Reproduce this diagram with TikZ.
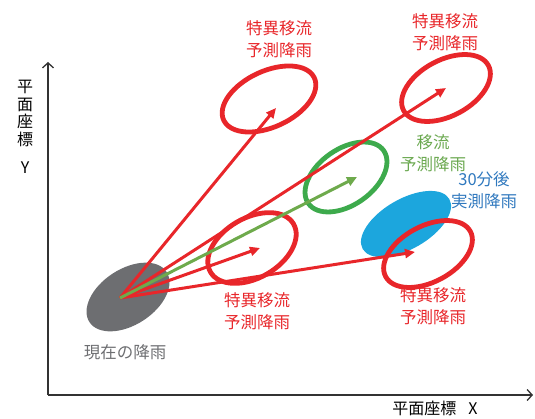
\documentclass[tikz,border=0pt]{standalone}
\usepackage{fontspec}
\setmainfont{Noto Sans CJK JP}
\usetikzlibrary{shapes.geometric,arrows.meta}
\definecolor{myred}{HTML}{E8262A}
\definecolor{mygreenring}{HTML}{3DAA4C}
\definecolor{mygreenarrow}{HTML}{6EAA4C}
\definecolor{mygreentext}{HTML}{6AA84F}
\definecolor{myblue}{HTML}{1CA6DD}
\definecolor{mybluetext}{HTML}{2F78BE}
\definecolor{mygray}{HTML}{6D6E71}
\definecolor{axisgray}{HTML}{333333}
\begin{document}
\begin{tikzpicture}[x=1pt,y=1pt,
  ring/.style={ellipse, draw=myred, line width=4.8pt, inner sep=0pt},
  blob/.style={ellipse, inner sep=0pt, draw=none},
  redarrow/.style={draw=myred, line width=3pt, -{Triangle[length=10pt,width=9pt]}},
  greenarrow/.style={draw=mygreenarrow, line width=3pt, -{Triangle[length=10pt,width=9pt]}},
  axis/.style={draw=axisgray, line width=1.3pt, -{Straight Barb[length=5pt,width=11pt]}},
  lbl/.style={align=center, font=\fontsize{16.5}{22}\selectfont, inner sep=0pt},
  axlbl/.style={font=\fontsize{16}{17.5}\selectfont, inner sep=0pt, text=black}]
\useasboundingbox (0,0) rectangle (535,418);
% axes
\coordinate (O) at (48,23);
\coordinate (Ytop) at (48,356);
\coordinate (Xend) at (533,23);
\draw[axis] (O) -- (Ytop);
\draw[axis] (O) -- (Xend);
\node[axlbl, align=center] (ylab) at (25,291) {平\\面\\座\\標\\[11pt]Y};
\node[axlbl] (xlab) at (435,9.5) {平面座標\hspace{12pt}X};
% current rain
\node[blob, fill=mygray, minimum width=92pt, minimum height=56pt, rotate=33] (now) at (128,121) {};
% observed after 30 min
\node[blob, fill=myblue, minimum width=100pt, minimum height=50pt, rotate=30] (obs) at (406,194) {};
% rings
\node[ring, minimum width=100pt, minimum height=56pt, rotate=25] (tl) at (269,319) {};
\node[ring, minimum width=96pt, minimum height=56pt, rotate=28] (tr) at (446,330) {};
\node[ring, minimum width=96pt, minimum height=60pt, rotate=30] (mid) at (252,170) {};
\node[ring, minimum width=96pt, minimum height=56pt, rotate=28] (br) at (428,164) {};
\node[ring, draw=mygreenring, minimum width=92pt, minimum height=56pt, rotate=35] (gr) at (346,241) {};
% arrows
\coordinate (src) at (120,120);
\coordinate (tltip) at (276,310);
\coordinate (trtip) at (446,330);
\coordinate (grtip) at (357,241);
\coordinate (midtip) at (260,170);
\coordinate (brtip) at (415,166);
\draw[redarrow] (src) -- (tltip);
\draw[redarrow] (src) -- (trtip);
\draw[redarrow] (src) -- (midtip);
\draw[redarrow] (src) -- (brtip);
\draw[greenarrow] (src) -- (grtip);
% labels
\node[lbl, text=myred] (tllab) at (279,379) {特異移流\\予測降雨};
\node[lbl, text=myred] (trlab) at (445,386) {特異移流\\予測降雨};
\node[lbl, text=mygreentext] (grlab) at (433,265) {移流\\予測降雨};
\node[lbl, text=mybluetext] (oblab) at (484,228) {30分後\\実測降雨};
\node[lbl, text=myred] (midlab) at (257,107) {特異移流\\予測降雨};
\node[lbl, text=myred] (brlab) at (433,112) {特異移流\\予測降雨};
\node[lbl, text=mygray] (nowlab) at (125,66) {現在の降雨};
\end{tikzpicture}
\end{document}
